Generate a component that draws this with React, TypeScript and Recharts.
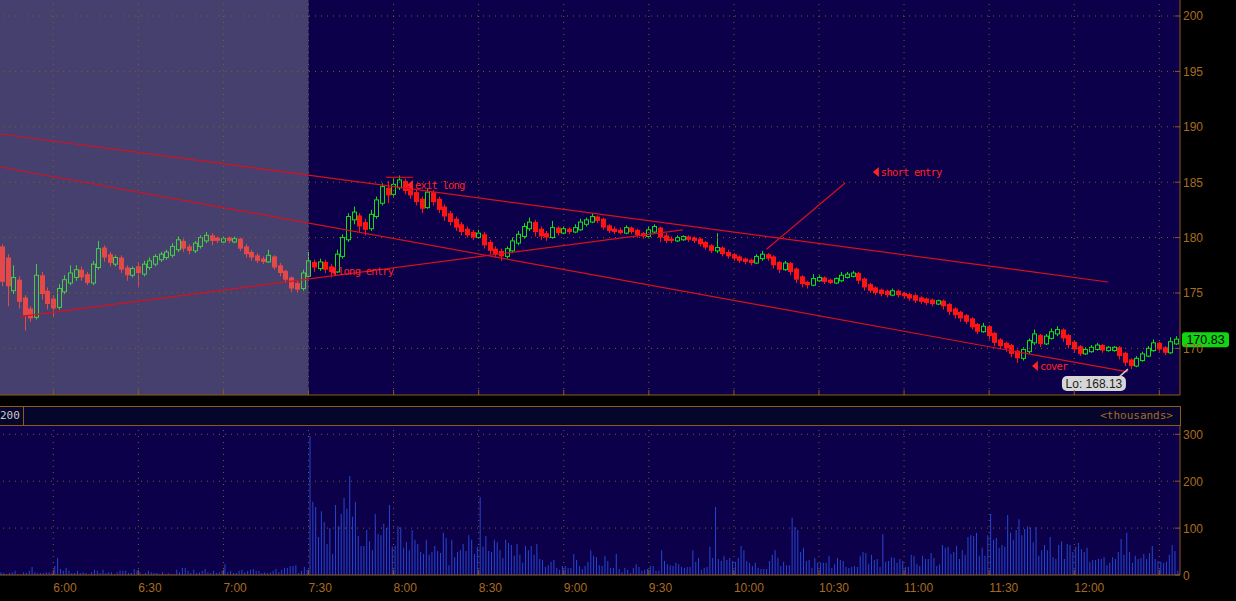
import React from 'react';
import {
  ComposedChart, Bar, XAxis, YAxis,
  ReferenceLine, ReferenceArea, ReferenceDot
} from 'recharts';

// ── axis / session setup (minutes after midnight) ──────────────
const X_MIN = 341.21;
const X_MAX = 757.3;
const SESSION_OPEN = 450; // 7:30
const PRICE_MIN = 165.79;
const PRICE_MAX = 201.444;
const VOL_MAX = 319.8;

const gridTimes = [360, 390, 420, 450, 480, 510, 540, 570, 600, 630, 660, 690, 720, 750];
const timeLabels = ['6:00', '6:30', '7:00', '7:30', '8:00', '8:30', '9:00', '9:30', '10:00', '10:30', '11:00', '11:30', '12:00'];
const priceTicks = [170, 175, 180, 185, 190, 195, 200];
const volumeTicks = [0, 100, 200, 300];

// ── 2-minute candles [open, high, low, close], first bar starts 5:41 ──
const CANDLE_START = 341;
const CANDLE_STEP = 2;
const candles: number[][] = [
  [179.2, 179.4, 175.6, 176.0], [178.2, 178.5, 173.8, 175.6], [175.2, 177.5, 174.9, 176.4], [176.2, 176.5, 173.6, 174.2],
  [174.6, 174.8, 171.6, 173.0], [173.6, 173.8, 172.4, 172.7], [172.8, 177.6, 172.6, 176.6], [176.6, 176.9, 174.4, 174.9],
  [175.2, 175.5, 173.5, 174.0], [174.5, 174.8, 172.8, 173.6], [173.7, 175.8, 173.5, 175.4], [175.1, 176.6, 174.9, 176.2],
  [175.9, 177.5, 175.7, 176.8], [176.4, 177.5, 176.1, 177.1], [177.1, 177.4, 176.1, 176.4], [176.7, 176.9, 175.7, 175.9],
  [175.9, 177.9, 175.7, 177.6], [177.3, 179.7, 177.1, 179.0], [179.1, 179.3, 177.8, 178.2], [178.5, 178.7, 177.4, 177.7],
  [177.6, 178.4, 177.4, 178.2], [178.2, 178.4, 176.8, 177.1], [177.3, 177.5, 176.1, 176.6], [176.6, 177.4, 176.4, 177.2],
  [177.4, 177.8, 175.5, 176.8], [176.7, 177.9, 176.5, 177.6], [177.3, 178.2, 177.1, 177.9], [177.6, 178.5, 177.4, 178.3],
  [178.0, 178.7, 177.8, 178.5], [178.2, 178.9, 178.0, 178.7], [178.4, 179.5, 178.2, 179.2], [178.9, 180.1, 178.7, 179.8],
  [179.7, 179.9, 178.7, 179.0], [179.2, 179.4, 178.5, 178.8], [178.8, 179.7, 178.6, 179.5], [179.2, 180.2, 179.0, 180.0],
  [179.7, 180.5, 179.5, 180.2], [180.2, 180.4, 179.3, 179.7], [180.0, 180.1, 179.5, 179.7], [179.6, 180.1, 179.5, 179.9],
  [180.0, 180.1, 179.5, 179.7], [179.6, 180.1, 179.5, 179.9], [179.9, 180.0, 178.8, 179.0], [179.2, 179.4, 178.2, 178.5],
  [178.7, 178.9, 177.9, 178.2], [178.4, 178.6, 177.7, 177.9], [178.1, 178.3, 177.6, 177.8], [177.8, 178.9, 177.7, 178.4],
  [178.3, 178.4, 177.1, 177.3], [177.5, 177.7, 176.5, 176.8], [177.0, 177.1, 175.9, 176.2], [176.4, 176.5, 175.1, 175.4],
  [175.9, 176.1, 175.0, 175.3], [175.4, 177.1, 175.2, 176.8], [176.5, 178.7, 176.4, 177.9], [177.8, 178.0, 176.9, 177.3],
  [177.2, 178.1, 177.0, 177.8], [177.8, 178.0, 176.8, 177.1], [177.4, 177.6, 176.4, 176.9], [176.9, 178.9, 176.8, 178.5],
  [178.3, 180.3, 178.1, 180.0], [179.8, 182.2, 179.6, 181.9], [181.6, 182.8, 181.2, 182.3], [182.0, 182.2, 180.4, 181.0],
  [181.4, 181.7, 180.2, 180.7], [180.8, 182.5, 180.6, 182.1], [181.9, 183.7, 181.7, 183.4], [183.1, 184.9, 182.9, 184.6],
  [184.5, 185.1, 183.1, 183.8], [183.9, 185.3, 183.6, 184.8], [184.5, 185.6, 184.3, 185.2], [185.1, 185.3, 183.9, 184.2],
  [184.6, 184.8, 183.5, 183.8], [184.1, 184.3, 182.9, 183.2], [183.5, 183.7, 182.2, 182.6], [182.7, 184.4, 182.6, 184.1],
  [184.1, 184.3, 182.9, 183.2], [183.5, 183.7, 182.2, 182.5], [182.8, 183.0, 181.5, 181.9], [182.2, 182.4, 181.1, 181.4],
  [181.7, 181.9, 180.6, 180.9], [181.2, 181.4, 180.2, 180.5], [180.8, 181.0, 180.0, 180.2], [180.5, 180.7, 179.8, 180.0],
  [180.0, 180.7, 179.9, 180.4], [180.3, 180.5, 179.0, 179.3], [179.6, 179.8, 178.5, 178.8], [179.0, 179.2, 178.2, 178.5],
  [178.8, 179.0, 177.9, 178.3], [178.3, 179.2, 178.1, 179.0], [178.8, 180.0, 178.6, 179.7], [179.5, 180.6, 179.3, 180.3],
  [180.1, 181.3, 179.9, 181.0], [180.8, 181.8, 180.6, 181.4], [181.4, 181.6, 180.1, 180.5], [180.8, 181.0, 179.8, 180.1],
  [180.4, 180.6, 179.7, 180.0], [180.0, 181.5, 179.9, 180.9], [180.9, 181.0, 180.2, 180.4], [180.4, 181.0, 180.3, 180.8],
  [180.8, 180.9, 180.3, 180.5], [180.5, 181.2, 180.4, 180.9], [180.7, 181.7, 180.6, 181.4], [181.2, 181.8, 181.0, 181.6],
  [181.4, 182.2, 181.3, 181.9], [181.9, 182.0, 181.3, 181.5], [181.7, 181.8, 180.7, 180.9], [181.1, 181.2, 180.4, 180.6],
  [180.8, 181.0, 180.3, 180.5], [180.7, 180.9, 180.3, 180.4], [180.4, 181.1, 180.3, 180.9], [180.9, 181.0, 180.3, 180.5],
  [180.7, 180.8, 180.0, 180.2], [180.4, 180.5, 179.9, 180.1], [180.1, 181.0, 180.0, 180.7], [180.5, 181.2, 180.4, 181.0],
  [180.9, 181.0, 179.6, 180.0], [180.2, 180.4, 179.5, 179.7], [179.9, 180.1, 179.5, 179.7], [179.7, 180.2, 179.6, 180.0],
  [179.8, 180.2, 179.7, 180.1], [180.1, 180.2, 179.6, 179.8], [180.0, 180.1, 179.5, 179.7], [179.9, 180.0, 179.2, 179.4],
  [179.6, 179.7, 178.9, 179.1], [179.3, 179.4, 178.6, 178.8], [178.8, 180.4, 178.6, 179.1], [179.1, 179.2, 178.3, 178.5],
  [178.7, 178.9, 178.1, 178.3], [178.5, 178.6, 177.9, 178.1], [178.3, 178.4, 177.7, 177.9], [178.1, 178.2, 177.6, 177.8],
  [178.0, 178.1, 177.5, 177.7], [177.7, 178.5, 177.6, 178.3], [178.1, 178.8, 177.9, 178.5], [178.5, 178.6, 177.9, 178.1],
  [178.3, 178.4, 177.2, 177.5], [177.8, 177.9, 176.8, 177.1], [177.1, 177.9, 177.0, 177.7], [177.7, 177.8, 176.6, 176.9],
  [177.2, 177.3, 175.9, 176.2], [176.5, 176.6, 175.5, 175.8], [176.0, 176.1, 175.4, 175.7], [175.7, 176.7, 175.6, 176.3],
  [176.1, 176.6, 176.0, 176.4], [176.4, 176.5, 175.8, 176.0], [176.2, 176.3, 175.8, 175.9], [175.9, 176.4, 175.8, 176.3],
  [176.1, 176.9, 176.0, 176.6], [176.4, 176.9, 176.3, 176.7], [176.5, 177.0, 176.4, 176.8], [176.8, 176.9, 175.8, 176.1],
  [176.3, 176.4, 175.2, 175.5], [175.8, 175.9, 175.0, 175.2], [175.5, 175.6, 174.8, 175.0], [175.3, 175.4, 174.7, 174.9],
  [175.2, 175.3, 174.6, 174.8], [174.8, 175.4, 174.7, 175.2], [175.2, 175.3, 174.6, 174.8], [175.0, 175.1, 174.5, 174.7],
  [174.9, 175.0, 174.3, 174.5], [174.8, 174.9, 174.1, 174.3], [174.6, 174.7, 174.0, 174.2], [174.5, 174.6, 173.9, 174.1],
  [174.4, 174.5, 173.8, 174.0], [174.0, 174.4, 173.9, 174.3], [174.3, 174.4, 173.5, 173.8], [174.0, 174.1, 173.0, 173.3],
  [173.6, 173.7, 172.7, 173.0], [173.3, 173.4, 172.4, 172.7], [173.0, 173.1, 172.2, 172.4], [172.7, 172.8, 171.7, 171.9],
  [172.2, 172.3, 171.3, 171.5], [171.5, 172.3, 171.4, 172.0], [172.0, 172.1, 170.8, 171.1], [171.4, 171.5, 170.2, 170.5],
  [170.8, 170.9, 169.9, 170.2], [170.5, 170.6, 169.7, 170.0], [170.3, 170.4, 169.2, 169.5], [169.8, 169.9, 168.7, 169.1],
  [169.1, 170.1, 168.9, 169.9], [169.7, 170.9, 169.5, 170.7], [170.5, 171.7, 170.3, 171.3], [171.2, 171.3, 170.1, 170.4],
  [170.4, 171.3, 170.3, 171.1], [170.9, 171.8, 170.8, 171.5], [171.3, 172.0, 171.1, 171.7], [171.7, 171.8, 170.6, 170.9],
  [171.2, 171.3, 170.0, 170.3], [170.6, 170.7, 169.6, 169.9], [170.2, 170.3, 169.3, 169.5], [169.5, 170.1, 169.4, 169.9],
  [169.7, 170.3, 169.6, 170.1], [169.9, 170.5, 169.8, 170.3], [170.3, 170.4, 169.6, 169.8], [169.8, 170.2, 169.7, 170.1],
  [169.8, 170.2, 169.7, 170.1], [170.1, 170.2, 169.0, 169.3], [169.6, 169.7, 168.4, 168.7], [169.0, 169.1, 168.13, 168.4],
  [168.4, 169.3, 168.3, 169.1], [168.9, 169.7, 168.8, 169.5], [169.3, 170.2, 169.2, 170.0], [169.8, 170.8, 169.7, 170.5],
  [170.5, 170.6, 169.7, 169.9], [170.1, 170.2, 169.4, 169.6], [169.6, 171.0, 169.5, 170.6], [170.4, 171.1, 170.3, 170.83],
];

// ── 1-minute volume, thousands, first bar 5:41 ──
const VOLUME_START = 341;
const preMarketVolume = [
  6, 4, 2, 4, 6, 9, 2, 2, 6, 4, 9, 17, 6, 4, 4, 4, 6, 6, 4, 19,
  36, 13, 9, 15, 9, 4, 4, 9, 4, 6, 4, 2, 6, 11, 9, 4, 11, 4, 6, 6,
  2, 6, 9, 9, 9, 4, 4, 13, 9, 6, 2, 4, 9, 6, 4, 4, 2, 6, 2, 4,
  2, 2, 11, 6, 15, 15, 9, 4, 11, 4, 6, 9, 13, 6, 4, 9, 4, 6, 9, 23,
  6, 9, 4, 4, 9, 11, 6, 9, 11, 13, 9, 9, 4, 6, 4, 6, 9, 13, 6, 11,
  15, 15, 19, 19, 21, 4, 9, 17, 11,
];
const morningVolume = [
  296, 156, 145, 81, 136, 113, 66, 100, 45, 149, 104, 130, 164, 141, 211, 124, 156, 83, 62, 62,
  96, 72, 53, 130, 87, 85, 109, 100, 149, 60, 62, 104, 102, 58, 70, 53, 96, 75, 66, 49,
  45, 75, 43, 49, 62, 51, 47, 90, 79, 21, 75, 38, 49, 53, 66, 51, 85, 75, 45, 60,
  166, 60, 83, 51, 49, 75, 70, 53, 36, 75, 68, 64, 41, 66, 43, 26, 62, 53, 62, 43,
  66, 34, 32, 17, 21, 28, 32, 15, 11, 19, 19, 15, 15, 45, 32, 19, 13, 19, 28, 53,
  41, 38, 21, 19, 41, 30, 15, 15, 45, 13, 6, 15, 11, 4, 15, 23, 17, 9, 11, 13,
  19, 19, 9, 9, 53, 30, 23, 21, 19, 26, 23, 17, 15, 17, 17, 53, 28, 36, 11, 15,
  17, 60, 36, 145, 34, 30, 41, 32, 36, 30, 28, 36,
];
const afternoonVolume = [
  62, 53, 30, 26, 19, 26, 15, 13, 13, 13, 30, 43, 53, 36, 19, 28, 21, 21, 122, 102,
  96, 49, 58, 30, 32, 15, 36, 26, 26, 26, 26, 41, 15, 23, 36, 32, 30, 17, 15, 17,
  19, 17, 41, 49, 47, 23, 43, 32, 34, 17, 87, 28, 30, 38, 36, 26, 34, 30, 17, 17,
  43, 41, 23, 19, 41, 34, 34, 47, 36, 19, 23, 64, 58, 60, 45, 49, 62, 34, 53, 43,
  81, 85, 83, 90, 41, 58, 41, 85, 130, 75, 79, 58, 64, 60, 128, 90, 75, 96, 119, 85,
  98, 104, 102, 70, 102, 41, 53, 64, 53, 81, 38, 34, 64, 72, 34, 66, 64, 49, 60, 68,
  55, 49, 58, 28, 32, 32, 34, 34, 38, 21, 26, 38, 34, 49, 77, 43, 90, 49, 26, 41,
  34, 36, 45, 34, 47, 62, 34, 30, 28, 26, 28, 43, 64, 51, 9,
];

// ── drawn studies: [time, price] endpoints ──
const trendLines: number[][][] = [
  [[341.21, 189.35], [731.9, 175.99]],
  [[341.21, 186.37], [738.9, 167.87]],
  [[348.26, 172.86], [582.0, 180.69]],
  [[611.5, 178.94], [639.2, 184.93]],
  [[477.3, 185.44], [486.8, 185.44]],
];
const markerTimes = [457.6, 484.7, 649.0, 705.1];
const markerPrices = [176.99, 184.75, 185.92, 168.41];
const markerLabels = ['long entry', 'exit long', 'short entry', 'cover'];
const lowTime = 740;
const lowPrice = 168.13;
const lastPrice = 170.83;

// ── colours ──
const PLOT_BG = '#0b0049';
const PRE_BG = '#45406e';
const AXIS = '#8f5b1d';
const LABEL = '#a86b22';
const GRID = '#8a5a1e';
const UP = '#10e010';
const DOWN = '#ff1414';
const UP_PRE = '#44cc44';
const DOWN_PRE = '#e44848';
const MARK = '#ff2424';
const LINE = '#d8101e';
const VOL = '#2846d2';
const MONO = '"DejaVu Sans Mono", monospace';
const SANS = '"Liberation Sans", Arial, sans-serif';

const candleRows = candles.map(([o, h, l, c], i) => ({
  t: CANDLE_START + i * CANDLE_STEP + CANDLE_STEP / 2,
  pre: CANDLE_START + i * CANDLE_STEP < SESSION_OPEN,
  o, h, l, c,
}));
const volumes = [...preMarketVolume, ...morningVolume, ...afternoonVolume];
const volumeRows = volumes.map((v, i) => ({ t: VOLUME_START + i + 0.5, v }));

const CandleShape = (props: any) => {
  const { x, y, width, height, payload } = props;
  if (!payload || y == null || height == null) return null;
  const top = Math.min(y, y + height);
  const bot = Math.max(y, y + height);
  const span = payload.h - payload.l || 1;
  const pix = (v: number) => top + ((payload.h - v) / span) * (bot - top);
  const up = payload.c >= payload.o;
  const color = up ? (payload.pre ? UP_PRE : UP) : (payload.pre ? DOWN_PRE : DOWN);
  const cx = Math.round(x + width / 2) + 0.5;
  const bTop = pix(Math.max(payload.o, payload.c));
  const bBot = pix(Math.min(payload.o, payload.c));
  const bh = Math.max(1, bBot - bTop);
  return (
    <g>
      <line x1={cx} x2={cx} y1={top} y2={bot} stroke={color} strokeWidth={1} />
      {up
        ? <rect x={cx - 2} y={bTop} width={4} height={bh} fill={payload.pre ? PRE_BG : PLOT_BG} stroke={color} strokeWidth={1} />
        : <rect x={cx - 2.5} y={bTop} width={5} height={bh} fill={color} />}
    </g>
  );
};

const PriceTick = (props: any) => {
  const { x, y, payload } = props;
  return (
    <g>
      <line x1={x - 5} x2={x} y1={y} y2={y} stroke={AXIS} />
      <text x={x + 3} y={y + 4.5} fill={LABEL} fontSize={12} fontFamily={SANS}>{payload.value}</text>
    </g>
  );
};

const UpTick = (props: any) => {
  const { x, y } = props;
  return <line x1={x} x2={x} y1={y - 5} y2={y} stroke={AXIS} />;
};

const TimeTick = (props: any) => {
  const { x, y, index } = props;
  return (
    <g>
      <line x1={x} x2={x} y1={y - 5} y2={y} stroke={AXIS} />
      <text x={x} y={y + 17} fill={LABEL} fontSize={12} fontFamily={SANS}>{timeLabels[index] ?? ''}</text>
    </g>
  );
};

const TradeMarker = (props: any) => {
  const { cx, cy, text } = props;
  return (
    <g>
      <polygon points={`${cx},${cy} ${cx + 6},${cy - 5} ${cx + 6},${cy + 5}`} fill={MARK} />
      <text x={cx + 8} y={cy + 4} fill={MARK} fontSize={10.5} fontFamily={MONO} letterSpacing={-0.8}>{text}</text>
    </g>
  );
};

const LowBubble = (props: any) => {
  const { cx, cy } = props;
  return (
    <g>
      <line x1={cx - 12} y1={cy + 8} x2={cx - 3} y2={cy} stroke="#c8c8c8" strokeWidth={1.5} />
      <rect x={cx - 69} y={cy + 7} width={64} height={15} rx={5} fill="#d6d6d6" />
      <text x={cx - 37} y={cy + 18.5} textAnchor="middle" fill="#1c1c1c" fontSize={12} fontFamily={SANS}>
        Lo: {lowPrice.toFixed(2)}
      </text>
    </g>
  );
};

const LastBadge = (props: any) => {
  const { cx, cy } = props;
  return (
    <g>
      <rect x={cx + 2} y={cy - 7} width={47} height={15} rx={3} fill="#12d412" />
      <text x={cx + 25.5} y={cy + 5} textAnchor="middle" fill="#000" fontSize={12.5} fontFamily={SANS}>
        {lastPrice.toFixed(2)}
      </text>
    </g>
  );
};

const dotted = { stroke: GRID, strokeDasharray: '1 5', strokeWidth: 1 };

export default function App() {
  return (
    <div style={{ position: 'absolute', left: 0, top: 0, width: 1236, height: 601, background: '#000', overflow: 'hidden' }}>
      <div style={{ position: 'absolute', left: 0, top: 0, width: 1180, height: 395, background: PLOT_BG }} />
      <div style={{ position: 'absolute', left: 0, top: 425, width: 1180, height: 150, background: PLOT_BG }} />

      {/* volume header band */}
      <div style={{
        position: 'absolute', left: 0, top: 406, width: 1180, height: 18,
        background: '#06052c', borderTop: `1px solid ${AXIS}`, borderBottom: `1px solid ${AXIS}`, borderRight: `1px solid ${AXIS}`,
      }}>
        <span style={{ position: 'absolute', left: 0, top: 2, color: '#c8c8c8', fontFamily: MONO, fontSize: 11 }}>200</span>
        <div style={{ position: 'absolute', left: 23, top: 0, width: 1, height: 18, background: AXIS }} />
        <span style={{ position: 'absolute', right: 7, top: 2, color: LABEL, fontFamily: MONO, fontSize: 11 }}>&lt;thousands&gt;</span>
      </div>

      {/* price panel */}
      <div style={{ position: 'absolute', left: 0, top: 0 }}>
        <ComposedChart width={1236} height={397} data={candleRows} margin={{ top: 0, right: 0, bottom: 0, left: 0 }}>
          <XAxis
            dataKey="t" type="number" domain={[X_MIN, X_MAX]} allowDataOverflow
            ticks={gridTimes} interval={0} height={2}
            axisLine={{ stroke: AXIS }} tickLine={false} tickSize={0} tickMargin={0}
            tick={<UpTick />}
          />
          <YAxis
            orientation="right" width={56} type="number"
            domain={[PRICE_MIN, PRICE_MAX]} allowDataOverflow
            ticks={priceTicks} interval={0}
            axisLine={{ stroke: AXIS }} tickLine={false} tickSize={0} tickMargin={0}
            tick={<PriceTick />}
          />
          <ReferenceArea x1={X_MIN} x2={SESSION_OPEN} fill="#9da0a8" fillOpacity={0.4} stroke="none" />
          {priceTicks.map((p) => <ReferenceLine key={'h' + p} y={p} {...dotted} />)}
          {gridTimes.map((t) => <ReferenceLine key={'v' + t} x={t} {...dotted} />)}
          <Bar
            dataKey={(d: any) => [d.l, d.h]} barSize={5}
            shape={<CandleShape />} isAnimationActive={false}
          />
          {trendLines.map(([a, b], i) => (
            <ReferenceLine
              key={'tl' + i} segment={[{ x: a[0], y: a[1] }, { x: b[0], y: b[1] }]}
              stroke={LINE} strokeWidth={1.2} ifOverflow="hidden"
            />
          ))}
          {markerLabels.map((label, i) => (
            <ReferenceDot
              key={label} x={markerTimes[i]} y={markerPrices[i]} r={0} ifOverflow="visible"
              shape={(p: any) => <TradeMarker {...p} text={label} />}
            />
          ))}
          <ReferenceDot x={lowTime} y={lowPrice} r={0} ifOverflow="visible" shape={(p: any) => <LowBubble {...p} />} />
          <ReferenceDot x={X_MAX} y={lastPrice} r={0} ifOverflow="visible" shape={(p: any) => <LastBadge {...p} />} />
        </ComposedChart>
      </div>

      {/* volume panel */}
      <div style={{ position: 'absolute', left: 0, top: 425 }}>
        <ComposedChart width={1236} height={176} data={volumeRows} margin={{ top: 0, right: 0, bottom: 0, left: 0 }}>
          <XAxis
            dataKey="t" type="number" domain={[X_MIN, X_MAX]} allowDataOverflow
            ticks={gridTimes} interval={0} height={26}
            axisLine={{ stroke: AXIS }} tickLine={false} tickSize={0} tickMargin={0}
            tick={<TimeTick />}
          />
          <YAxis
            orientation="right" width={56} type="number"
            domain={[0, VOL_MAX]} allowDataOverflow
            ticks={volumeTicks} interval={0}
            axisLine={{ stroke: AXIS }} tickLine={false} tickSize={0} tickMargin={0}
            tick={<PriceTick />}
          />
          {volumeTicks.filter((v) => v > 0).map((v) => <ReferenceLine key={'vh' + v} y={v} {...dotted} />)}
          {gridTimes.map((t) => <ReferenceLine key={'vv' + t} x={t} {...dotted} />)}
          <Bar dataKey="v" barSize={1} fill={VOL} isAnimationActive={false} />
        </ComposedChart>
      </div>
    </div>
  );
}
